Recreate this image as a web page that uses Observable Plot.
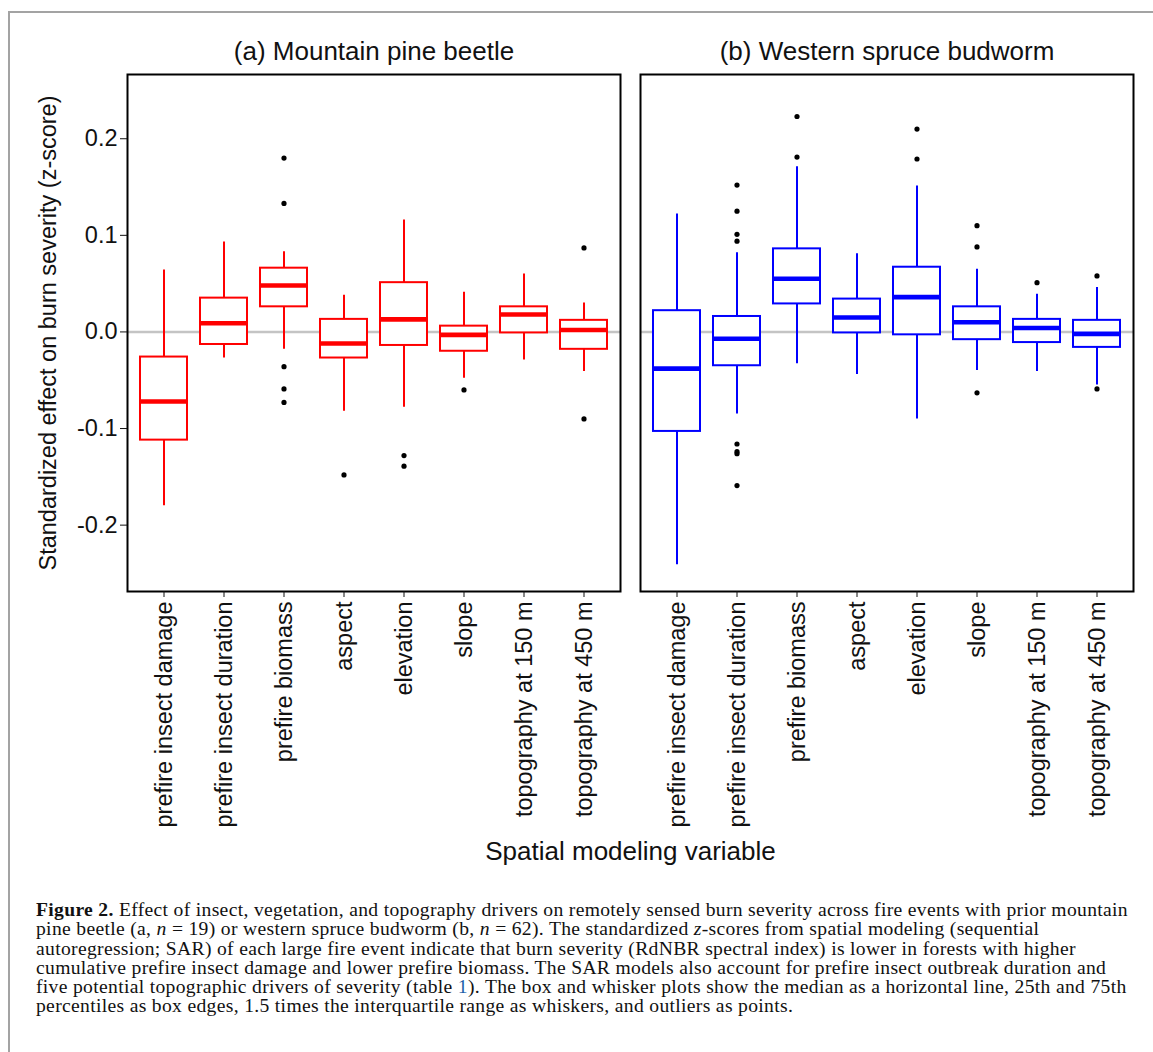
<!DOCTYPE html>
<html><head><meta charset="utf-8">
<script src="https://cdn.jsdelivr.net/npm/d3@7"></script>
<script src="https://cdn.jsdelivr.net/npm/@observablehq/plot@0.6"></script>
<style>
html,body{margin:0;padding:0;background:#fff;overflow:hidden;width:1153px;height:1052px;}
#frame{position:absolute;left:8px;top:11px;width:1300px;height:1200px;border-left:2px solid #a3a3a3;border-top:2px solid #a3a3a3;z-index:5;pointer-events:none;}
#chart{position:absolute;left:0;top:0;}
#caption{position:absolute;left:36px;top:900px;font-family:"Liberation Serif","Times New Roman",serif;font-size:19.6px;line-height:19.3px;color:#111;white-space:nowrap;}
#caption .l{display:block}
#caption .m{display:inline-block}
#caption .lnk{color:#1f5fa8}
</style></head><body>
<div id="chart"></div>
<div id="frame"></div>
<div id="caption">
<span class="l"><span class="m" id="cap1"><b>Figure 2.</b> Effect of insect, vegetation, and topography drivers on remotely sensed burn severity across fire events with prior mountain</span></span>
<span class="l">pine beetle (a, <i>n</i> = 19) or western spruce budworm (b, <i>n</i> = 62). The standardized <i>z</i>-scores from spatial modeling (sequential</span>
<span class="l">autoregression; SAR) of each large fire event indicate that burn severity (RdNBR spectral index) is lower in forests with higher</span>
<span class="l">cumulative prefire insect damage and lower prefire biomass. The SAR models also account for prefire insect outbreak duration and</span>
<span class="l">five potential topographic drivers of severity (table <span class="lnk">1</span>). The box and whisker plots show the median as a horizontal line, 25th and 75th</span>
<span class="l">percentiles as box edges, 1.5 times the interquartile range as whiskers, and outliers as points.</span>
</div>
<script>
// ---- data ----
const variables = ["prefire insect damage", "prefire insect duration", "prefire biomass", "aspect", "elevation", "slope", "topography at 150 m", "topography at 450 m"];
const panelKeys = ["a", "b"];
const panelTitles = ["(a) Mountain pine beetle", "(b) Western spruce budworm"];
const panelColors = ["#ff0000", "#0000ff"];
const yTicks = [-0.2, -0.1, 0, 0.1, 0.2];

// (a) Mountain pine beetle
const mpbLow    = [-0.180, -0.027, -0.018, -0.082, -0.078, -0.048, -0.029, -0.041];
const mpbQ1     = [-0.112, -0.013,  0.026, -0.027, -0.014, -0.020, -0.001, -0.018];
const mpbMedian = [-0.072,  0.009,  0.048, -0.012,  0.013, -0.003,  0.018,  0.002];
const mpbQ3     = [-0.026,  0.035,  0.066,  0.013,  0.051,  0.006,  0.026,  0.012];
const mpbHigh   = [ 0.064,  0.093,  0.083,  0.038,  0.116,  0.041,  0.060,  0.030];
const mpbOutliers = [[], [], [0.180, 0.133, -0.036, -0.059, -0.073], [-0.148], [-0.128, -0.139], [-0.060], [], [0.087, -0.090]];

// (b) Western spruce budworm
const wsbLow    = [-0.241, -0.085, -0.033, -0.044, -0.090, -0.040, -0.041, -0.055];
const wsbQ1     = [-0.103, -0.035,  0.029, -0.001, -0.003, -0.008, -0.011, -0.016];
const wsbMedian = [-0.038, -0.007,  0.055,  0.015,  0.036,  0.010,  0.004, -0.002];
const wsbQ3     = [ 0.022,  0.016,  0.086,  0.034,  0.067,  0.026,  0.013,  0.012];
const wsbHigh   = [ 0.122,  0.082,  0.171,  0.081,  0.151,  0.065,  0.039,  0.046];
const wsbOutliers = [[], [0.152, 0.125, 0.101, 0.094, -0.116, -0.124, -0.126, -0.159], [0.223, 0.181], [], [0.210, 0.179], [0.110, 0.088, -0.063], [0.051], [0.058, -0.059]];

// ---- build tables ----
const series = [
  {key: "a", low: mpbLow, q1: mpbQ1, med: mpbMedian, q3: mpbQ3, high: mpbHigh, out: mpbOutliers},
  {key: "b", low: wsbLow, q1: wsbQ1, med: wsbMedian, q3: wsbQ3, high: wsbHigh, out: wsbOutliers}
];
const boxes = [];
const outliers = [];
for (const s of series) {
  variables.forEach((v, i) => {
    boxes.push({panel: s.key, variable: v, low: s.low[i], q1: s.q1[i], median: s.med[i], q3: s.q3[i], high: s.high[i]});
    for (const o of s.out[i]) outliers.push({panel: s.key, variable: v, value: o});
  });
}

const chart = Plot.plot({
  width: 1153,
  height: 868,
  marginLeft: 127,
  marginRight: 19,
  marginTop: 74,
  marginBottom: 277,
  style: {fontFamily: '"Liberation Sans", Arial, sans-serif', color: "#111", background: "white", overflow: "visible"},
  fx: {domain: panelKeys, paddingInner: 0.0389, paddingOuter: 0, axis: null},
  x: {domain: variables, type: "band", paddingInner: 0.22, paddingOuter: 0.21, axis: null},
  y: {domain: [-0.2687, 0.2665], axis: null},
  color: {domain: panelKeys, range: panelColors},
  marks: [
    Plot.ruleY([0], {stroke: "#c4c4c4", strokeWidth: 2.4}),
    Plot.ruleX(boxes, {fx: "panel", x: "variable", y1: "low", y2: "high", stroke: "panel", strokeWidth: 2}),
    Plot.barY(boxes, {fx: "panel", x: "variable", y1: "q1", y2: "q3", fill: "white", stroke: "panel", strokeWidth: 2}),
    Plot.tickY(boxes, {fx: "panel", x: "variable", y: "median", stroke: "panel", strokeWidth: 4.6}),
    Plot.dot(outliers, {fx: "panel", x: "variable", y: "value", r: 2.6, fill: "black", stroke: null}),
    Plot.frame({stroke: "black", strokeWidth: 2}),
    Plot.axisY({ticks: yTicks, tickFormat: d => d.toFixed(1), tickSize: 7, tickPadding: 3, fontSize: 23.5,
      label: "Standardized effect on burn severity (z-score)", labelAnchor: "center", labelOffset: 88, labelArrow: "none"}),
    Plot.axisX({tickRotate: -90, tickSize: 6, tickPadding: 4, fontSize: 23.5, label: null}),
    Plot.axisFx({anchor: "top", tickSize: 0, tickPadding: 15, fontSize: 26, label: null,
      tickFormat: d => panelTitles[panelKeys.indexOf(d)]}),
    Plot.axisFx({anchor: "bottom", ticks: [], tickSize: 0, fontSize: 26, label: "Spatial modeling variable",
      labelAnchor: "center", labelOffset: 268, labelArrow: "none"})
  ]
});
document.getElementById("chart").appendChild(chart);

// fit caption width to the reference line length
const cap1 = document.getElementById("cap1");
const w = cap1.getBoundingClientRect().width;
const n = cap1.textContent.length;
document.getElementById("caption").style.letterSpacing = ((1092 - w) / n) + "px";
</script>
</body></html>
